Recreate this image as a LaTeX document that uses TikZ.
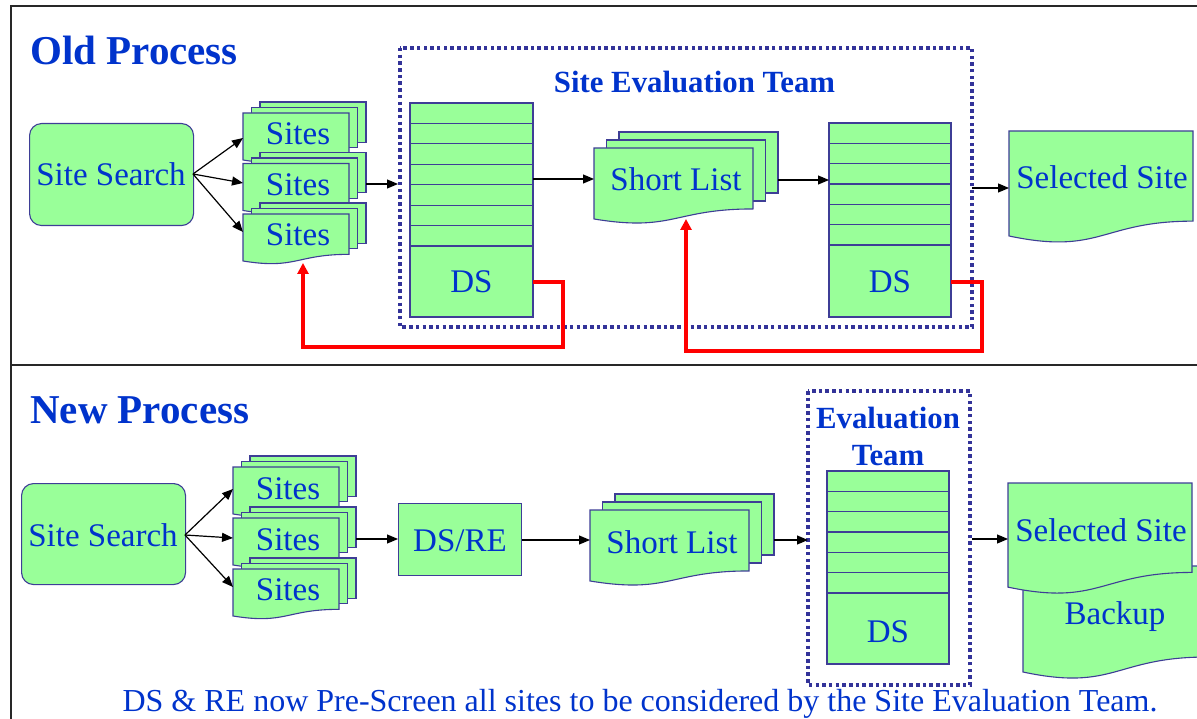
\documentclass[tikz,border=0pt]{standalone}
\usepackage{fontspec}
\setmainfont{Liberation Serif}
\usetikzlibrary{arrows.meta}

\definecolor{txtblue}{RGB}{0,51,204}
\definecolor{docfill}{RGB}{153,255,153}
\definecolor{edgeblue}{RGB}{62,62,150}
\definecolor{teamdot}{RGB}{51,51,153}
\definecolor{framegray}{RGB}{40,40,40}

\tikzset{
  shapeline/.style={draw=edgeblue, line width=1.1pt, fill=docfill},
  lbl/.style={text=txtblue, font=\fontsize{33}{36}\selectfont, inner sep=0pt, anchor=base},
  ttl/.style={text=txtblue, font=\fontsize{41}{44}\selectfont\bfseries, inner sep=0pt, anchor=base west},
  teamlbl/.style={text=txtblue, font=\fontsize{30.8}{33}\selectfont\bfseries, inner sep=0pt, anchor=base},
  roundbox/.style={shapeline, rounded corners=12pt, inner sep=0pt, anchor=north west},
  plainbox/.style={shapeline, inner sep=0pt, anchor=north west},
  teambox/.style={draw=teamdot, line width=3.5pt, dash pattern=on 3.5pt off 3.2pt},
  arr/.style={-{Triangle[length=11pt,width=9pt]}, line width=1.2pt, black},
  fb/.style={draw=red, line width=3.3pt, -{Triangle[length=11pt,width=11pt]}},
  framel/.style={draw=framegray, line width=1.8pt}
}

% one page with a wavy bottom: x, y (top left), width, full height
\newcommand\docpage[4]{%
  \filldraw[shapeline] (#1,#2) -- (#1+#3,#2) -- (#1+#3,#2+0.802*#4)
    .. controls (#1+0.5*#3,#2+0.802*#4) and (#1+0.5*#3,#2+1.107*#4) .. (#1,#2+0.934*#4) -- cycle;}
% a pile of three pages: x, y, width, height, x offset, y offset
\newcommand\docpile[6]{%
  \filldraw[shapeline] (#1+2*#5,#2-2*#6) rectangle ++(#3,0.802*#4);
  \filldraw[shapeline] (#1+#5,#2-#6) rectangle ++(#3,0.802*#4);
  \docpage{#1}{#2}{#3}{#4}}
% a data-store column: x, top, width, rows, row height, bottom
\newcommand\dscolumn[6]{%
  \filldraw[shapeline] (#1,#2) rectangle (#1+#3,#6);
  \foreach \k in {1,...,#4}{\draw[edgeblue, line width=1.1pt] (#1,#2+\k*#5) -- (#1+#3,#2+\k*#5);}}

\begin{document}
\begin{tikzpicture}[x=1pt, y=-1pt]
\useasboundingbox (0,0) rectangle (1197,719);

% frame and divider
\draw[framel] (11,721) -- (11,6) -- (1199,6);
\draw[framel] (11,365) -- (1199,365);

% ---------------- old process ----------------
\node[ttl] (oldtitle) at (30,65) {Old Process};

\node[roundbox, minimum width=164pt, minimum height=102pt] (search1) at (29,123) {};
\node[lbl] (search1txt) at (111,186) {Site Search};

\docpile{243}{113}{106}{50.3}{8.5}{5.5}
\node[lbl] (sitesA) at (298,145) {Sites};
\docpile{243}{163.5}{106}{50.3}{8.5}{5.5}
\node[lbl] (sitesB) at (298,195.5) {Sites};
\docpile{243}{214}{106}{50.3}{8.5}{5.5}
\node[lbl] (sitesC) at (298,246) {Sites};

\draw[teambox] (400,48) rectangle (972,327);
\node[teamlbl] (teamA) at (694.5,93) {Site Evaluation Team};

\dscolumn{410}{103}{123}{7}{20.43}{317}
\node[lbl] (dsA) at (471.5,293) {DS};

\docpile{594}{148}{159}{76}{12.5}{8}
\node[lbl] (shortA) at (676,191) {Short List};

\dscolumn{829}{123}{122}{6}{20.33}{317}
\node[lbl] (dsB) at (890,293) {DS};

\docpage{1009}{131}{184}{112.4}
\node[lbl] (selA) at (1102,189) {Selected Site};

% connection points
\coordinate (search1out) at (193,174);
\coordinate (sitesAin) at (243,138);
\coordinate (sitesBin) at (243,183);
\coordinate (sitesCin) at (243,232);
\coordinate (sitesout) at (366,184);
\coordinate (teamAin) at (398,184);
\coordinate (dsAout) at (533,179);
\coordinate (shortAin) at (594,179);
\coordinate (shortAout) at (778,180);
\coordinate (dsBin) at (829,180);
\coordinate (teamAout) at (972,188);
\coordinate (selAin) at (1009,188);
\coordinate (dsAback) at (533,282);
\coordinate (sitesCbottom) at (303,263);
\coordinate (dsBback) at (951,282);
\coordinate (shortAbottom) at (686,219);

\draw[arr] (search1out) -- (sitesAin);
\draw[arr] (search1out) -- (sitesBin);
\draw[arr] (search1out) -- (sitesCin);
\draw[arr] (sitesout) -- (teamAin);
\draw[arr] (dsAout) -- (shortAin);
\draw[arr] (shortAout) -- (dsBin);
\draw[arr] (teamAout) -- (selAin);

\draw[fb] (dsAback) -- (563,282) -- (563,347) -- (303,347) -- (sitesCbottom);
\draw[fb] (dsBback) -- (982,282) -- (982,351) -- (686,351) -- (shortAbottom);

% ---------------- new process ----------------
\node[ttl] (newtitle) at (30,423) {New Process};

\node[roundbox, minimum width=164pt, minimum height=101pt] (search2) at (21,483) {};
\node[lbl] (search2txt) at (103,546) {Site Search};

\docpile{233}{467}{106}{50.3}{8.5}{5.5}
\node[lbl] (sitesD) at (288,499) {Sites};
\docpile{233}{518}{106}{50.3}{8.5}{5.5}
\node[lbl] (sitesE) at (288,550) {Sites};
\docpile{233}{569}{106}{50.3}{8.5}{5.5}
\node[lbl] (sitesF) at (288,600) {Sites};

\node[plainbox, minimum width=123pt, minimum height=72pt] (dsre) at (398,503) {};
\node[lbl] (dsretxt) at (460,551) {DS/RE};

\docpile{590}{510}{159}{76}{12.5}{8}
\node[lbl] (shortB) at (672,553) {Short List};

\draw[teambox] (808,391) rectangle (970,685);
\node[teamlbl] (teamB1) at (888,428) {Evaluation};
\node[teamlbl] (teamB2) at (888,465) {Team};

\dscolumn{827}{471}{122}{6}{20.33}{664}
\node[lbl] (dsC) at (888,642) {DS};

\docpage{1023}{566}{184}{113.5}
\node[lbl] (backup) at (1115,624) {Backup};
\docpage{1008}{483}{184}{111.5}
\node[lbl] (selB) at (1101,541) {Selected Site};

\coordinate (search2out) at (185,535);
\coordinate (sitesDin) at (233,489);
\coordinate (sitesEin) at (233,538);
\coordinate (sitesFin) at (233,587);
\coordinate (sitesout2) at (356,539);
\coordinate (shortBout) at (774,540);
\coordinate (teamBin) at (808,540);
\coordinate (teamBout) at (972,539);
\coordinate (selBin) at (1008,539);

\draw[arr] (search2out) -- (sitesDin);
\draw[arr] (search2out) -- (sitesEin);
\draw[arr] (search2out) -- (sitesFin);
\draw[arr] (sitesout2) -- (dsre.west |- sitesout2);
\draw[arr] (dsre.east |- 0,540) -- (590,540);
\draw[arr] (shortBout) -- (teamBin);
\draw[arr] (teamBout) -- (selBin);

\node[lbl, font=\fontsize{32}{34}\selectfont] (note) at (640,711)
  {DS \& RE now Pre-Screen all sites to be considered by the Site Evaluation Team.};
\end{tikzpicture}
\end{document}
